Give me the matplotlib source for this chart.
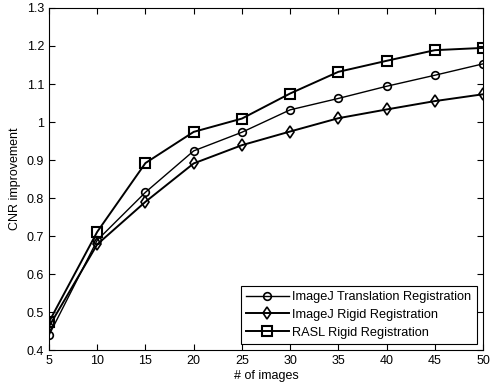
import numpy as np
import matplotlib.pyplot as plt

plt.rcParams['font.family'] = ['Liberation Sans', 'DejaVu Sans']

# Data.
numImages       = [5, 10, 15, 20, 25, 30, 35, 40, 45, 50]
translationCnr  = [0.439, 0.689, 0.815, 0.924, 0.973, 1.032, 1.062, 1.094, 1.123, 1.153]
rigidCnr        = [0.462, 0.678, 0.790, 0.891, 0.939, 0.975, 1.010, 1.033, 1.055, 1.073]
raslCnr         = [0.474, 0.711, 0.892, 0.974, 1.009, 1.075, 1.132, 1.161, 1.189, 1.195]
seriesLabels    = ['ImageJ Translation Registration', 'ImageJ Rigid Registration', 'RASL Rigid Registration']
yTicks          = [0.4, 0.5, 0.6, 0.7, 0.8, 0.9, 1.0, 1.1, 1.2, 1.3]
yTickLabels     = ['0.4', '0.5', '0.6', '0.7', '0.8', '0.9', '1', '1.1', '1.2', '1.3']

fig = plt.figure(figsize=(4.96, 3.92), dpi=100)
ax  = fig.add_axes([0.0988, 0.1071, 0.875, 0.8725])

ax.plot(numImages, translationCnr, 'k-', marker='o', markersize=5.5, markerfacecolor='none',
        markeredgewidth=1.2, linewidth=1.0, label=seriesLabels[0])
ax.plot(numImages, rigidCnr, 'k-', marker='d', markersize=6.5, markerfacecolor='none',
        markeredgewidth=1.2, linewidth=1.4, label=seriesLabels[1])
ax.plot(numImages, raslCnr, 'k-', marker='s', markersize=6.5, markerfacecolor='none',
        markeredgewidth=1.5, linewidth=1.4, label=seriesLabels[2])

ax.set_xlim(5, 50)
ax.set_ylim(0.4, 1.3)
ax.set_xticks(numImages)
ax.set_yticks(yTicks)
ax.set_yticklabels(yTickLabels)
ax.tick_params(direction='in', top=True, right=True, length=4, labelsize=9, width=0.8)
for spine in ax.spines.values():
    spine.set_linewidth(0.8)

ax.set_xlabel('# of images', fontsize=9, labelpad=2)
ax.set_ylabel('CNR improvement', fontsize=9, labelpad=4)

leg = ax.legend(loc='lower right', fontsize=9.2, handlelength=3.4, fancybox=False,
                framealpha=1, edgecolor='k', borderpad=0.4, labelspacing=0.45,
                handletextpad=0.25, borderaxespad=0.5)
leg.get_frame().set_linewidth(0.8)

fig.savefig('out.png', dpi=100)
